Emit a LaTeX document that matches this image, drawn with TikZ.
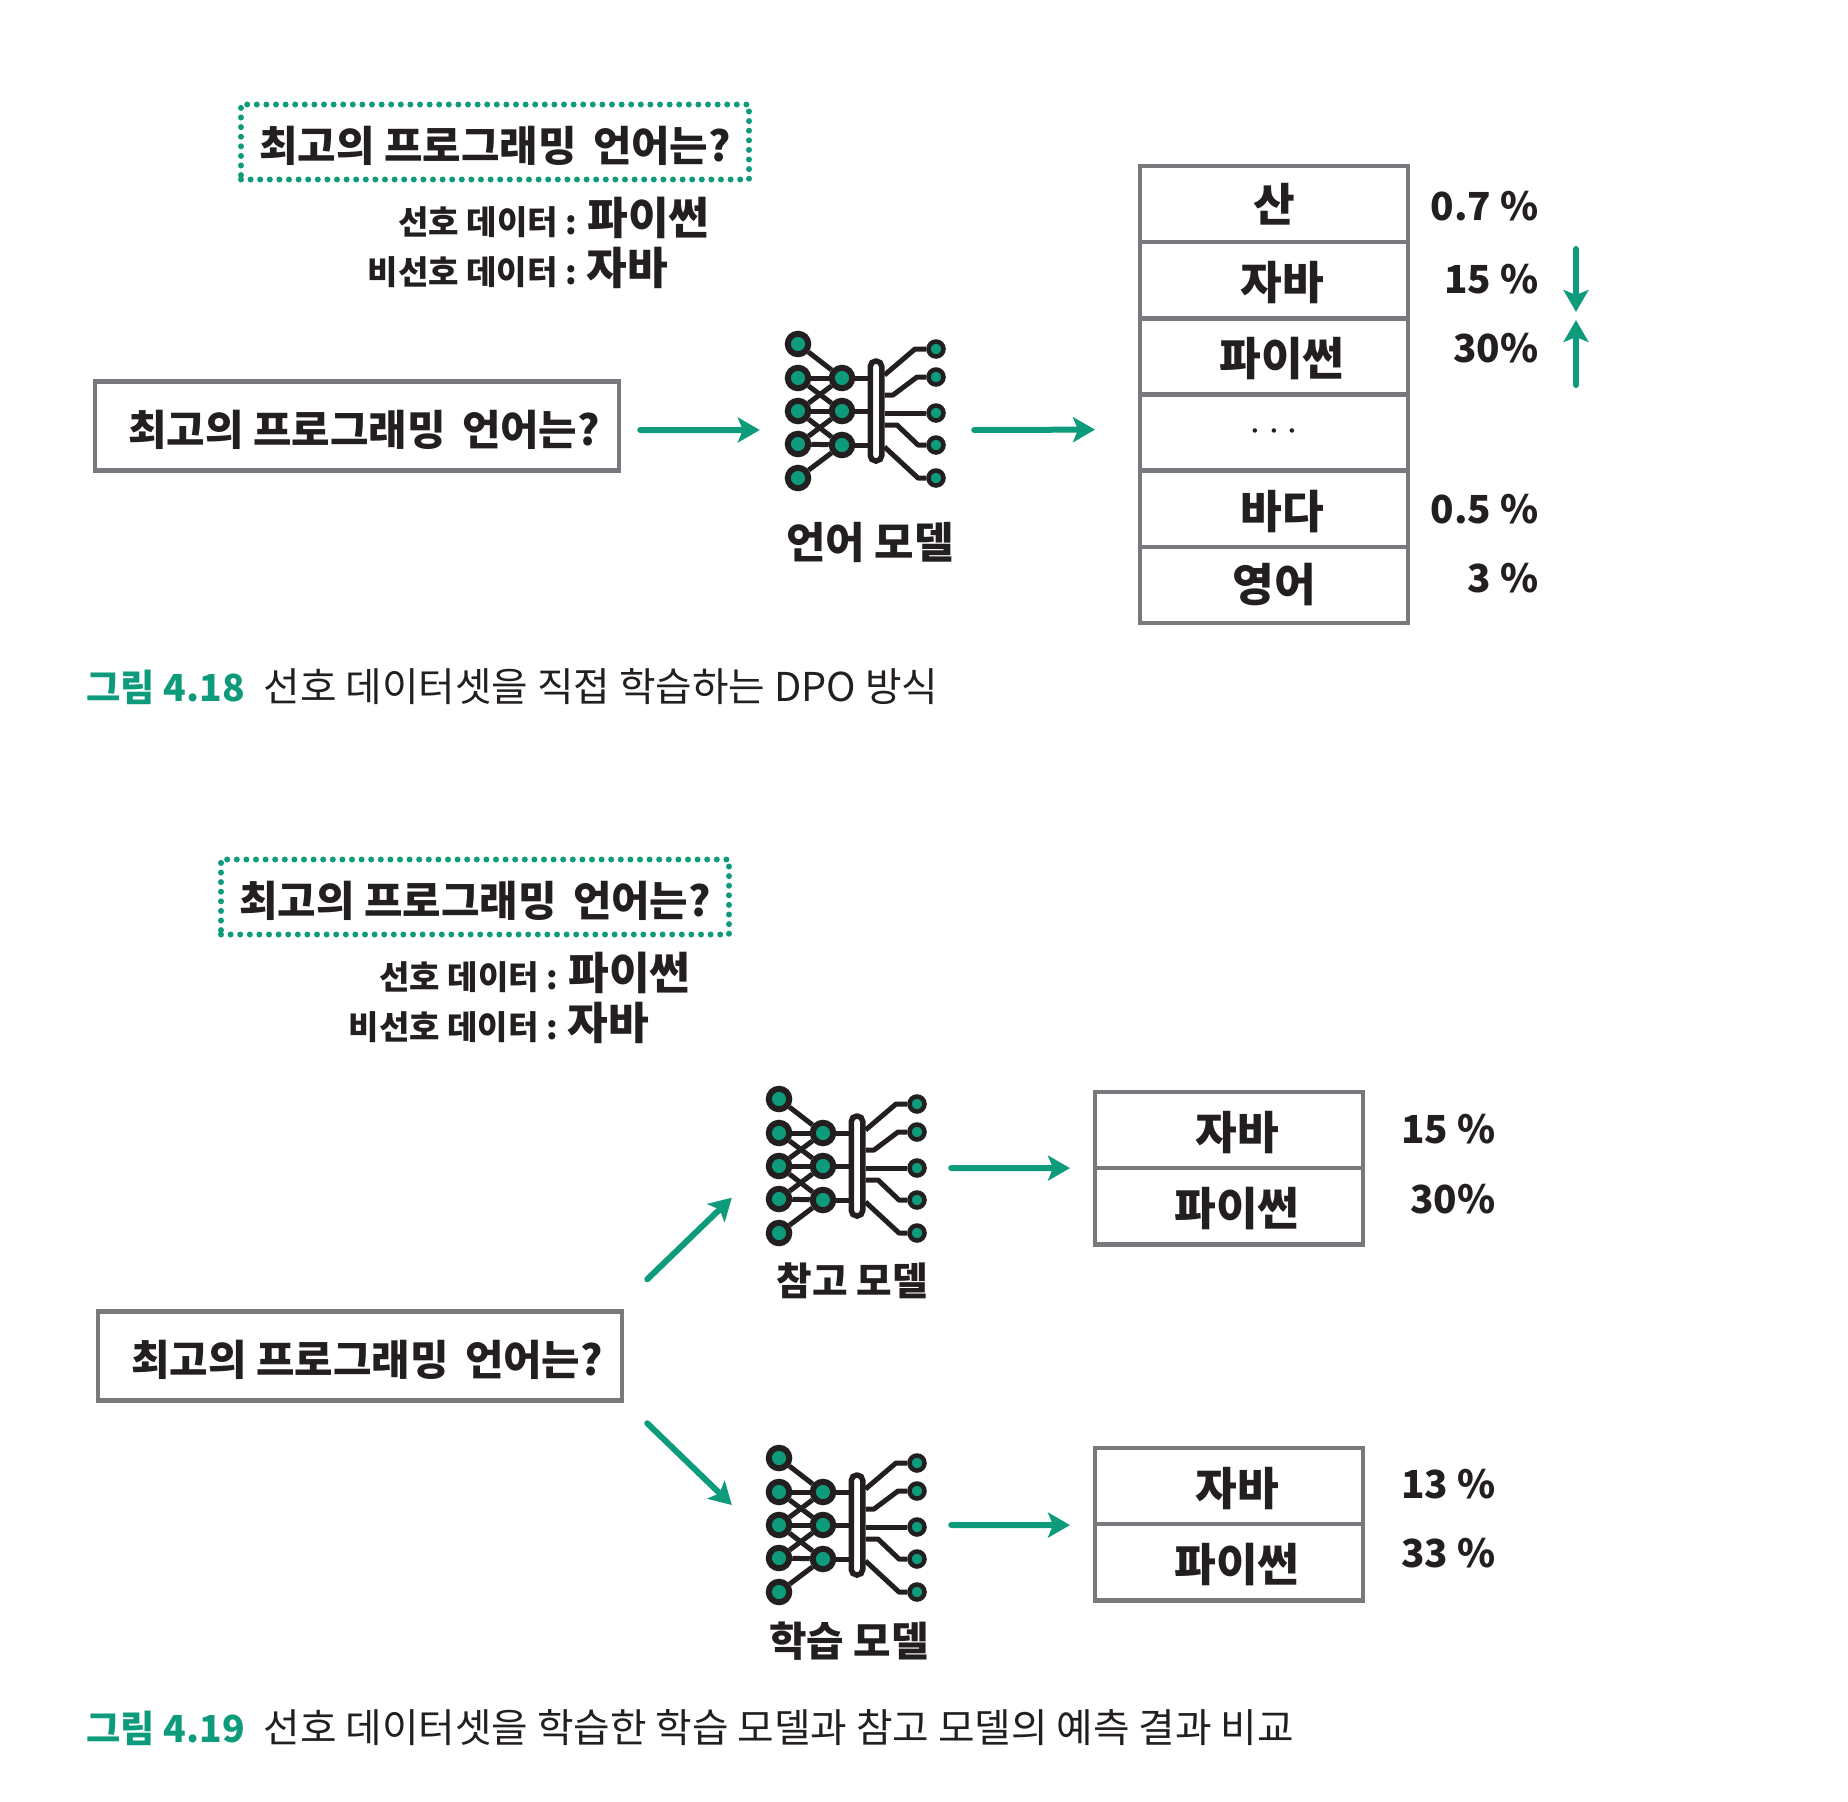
\documentclass[tikz,border=0pt]{standalone}
\usepackage{fontspec}
\setmainfont{Noto Sans CJK KR}
\usepackage{tikz}
\usetikzlibrary{arrows.meta, positioning, calc}
\definecolor{verdeDP}{RGB}{14,155,124}
\definecolor{grisDP}{RGB}{120,121,124}
\definecolor{tintaDP}{RGB}{35,31,32}
\tikzset{
  dp/qbox/.style={rectangle, draw=grisDP, fill=white, line width=.45mm,
    minimum width=52.4mm, minimum height=8.9mm, inner sep=0pt,
    font=\fontsize{11.9}{12}\selectfont\bfseries\color{tintaDP}},
  dp/dotbox/.style={rectangle, draw=verdeDP, line width=.6mm, line cap=round,
    dash pattern=on 0pt off .96mm,
    minimum width=50.8mm, minimum height=7.5mm, inner sep=0pt,
    font=\fontsize{11.9}{12}\selectfont\bfseries\color{tintaDP}},
  dp/row/.style={rectangle, draw=grisDP, fill=white, line width=.45mm,
    minimum width=26.8mm, minimum height=7.62mm, inner sep=0pt, outer sep=0pt,
    font=\fontsize{12.9}{13}\selectfont\bfseries\color{tintaDP}},
  dp/pct/.style={anchor=east, inner sep=0pt,
    font=\fontsize{11}{12}\selectfont\bfseries\color{tintaDP}},
  dp/pref/.style={inner sep=0pt, font=\fontsize{9.4}{12}\selectfont\bfseries\color{tintaDP}},
  dp/mlbl/.style={inner sep=0pt, font=\fontsize{#1}{13}\selectfont\bfseries\color{tintaDP}},
  dp/cap/.style={anchor=west, inner sep=0pt, font=\fontsize{11.3}{13}\selectfont\color{tintaDP}},
  dp/capnum/.style={anchor=west, inner sep=0pt, font=\fontsize{10.6}{13}\selectfont\bfseries\color{verdeDP}},
  dp/arr/.style={-{Stealth[length=2.2mm,width=2.5mm,inset=.5mm]}, line width=.6mm, draw=verdeDP, line cap=round},
  dp/inN/.style={circle, draw=tintaDP, fill=verdeDP, line width=.6mm, minimum size=2.05mm, inner sep=0pt},
  dp/outN/.style={circle, draw=tintaDP, fill=verdeDP, line width=.45mm, minimum size=1.5mm, inner sep=0pt},
  dp/bar/.style={rectangle, rounded corners=.55mm, draw=tintaDP, fill=white, line width=.55mm,
    minimum width=1.15mm, minimum height=10mm, inner sep=0pt},
  dp/wire/.style={line width=.5mm, draw=tintaDP, line join=round},
  netmodel/.pic={
    \node[minimum width=16.5mm, minimum height=15mm, inner sep=0pt] (-body) at (70,67) {};
    \foreach \i/\yy in {1/0,2/34,3/67,4/100,5/134}
      \node[dp/inN] (-in\i) at (0,\yy) {};
    \foreach \i/\yy in {1/34,2/67,3/101}
      \node[dp/inN] (-mid\i) at (44,\yy) {};
    \node[dp/bar] (-bar) at (78,67) {};
    \foreach \i/\yy in {1/5,2/33,3/69,4/101,5/134}
      \node[dp/outN] (-out\i) at (138,\yy) {};
    \foreach \a/\b in {1/1,2/1,2/2,3/1,3/2,3/3,4/2,4/3,5/3}
      \draw[dp/wire] (-in\a) -- (-mid\b);
    \foreach \i in {1,2,3}
      \draw[dp/wire] (-mid\i) -- (-mid\i -| -bar.west);
    \draw[dp/wire] (-bar.east |- 0,31) -- (117,5) -- (-out1);
    \draw[dp/wire] (-bar.east |- 0,51) -- (95,51) -- (119,33) -- (-out2);
    \draw[dp/wire] (-bar.east |- 0,69) -- (-out3);
    \draw[dp/wire] (-bar.east |- 0,81) -- (99,81) -- (120,101) -- (-out4);
    \draw[dp/wire] (-bar.east |- 0,103) -- (120,134) -- (-out5);
  }
}
\newcommand{\pregunta}{\raisebox{-1.95mm}[0pt][0pt]{최고의 프로그래밍 \,언어는?}}
\newcommand{\celda}[1]{\hspace*{1.6mm}\raisebox{-1.95mm}[0pt][0pt]{#1}}
\newcommand{\grande}[1]{{\fontsize{12.6}{13}\selectfont #1}}
\begin{document}
\begin{tikzpicture}[x=.1mm, y=-.1mm]
  \useasboundingbox (0,0) rectangle (1848,1802);

  % figura 4.18
  \node[dp/dotbox] (da) at (495,142) {\pregunta};
  \node[dp/pref] (pa1) at (554,218) {선호 데이터 : \grande{파이썬}};
  \node[dp/pref] (pa2) at (518,268) {비선호 데이터 : \grande{자바}};
  \node[dp/qbox] (qa) at (357,426) {\hspace*{1.4mm}\pregunta};
  \pic (ma) at (798,344) {netmodel};
  \node[dp/mlbl=12.2] (la) at (870,542) {언어 모델};

  \node[dp/row] (r1) at (1274,204) {산};
  \node[dp/row, below=0mm of r1] (r2) {\celda{자바}};
  \node[dp/row, below=0mm of r2] (r3) {\celda{파이썬}};
  \node[dp/row, below=0mm of r3] (r4) {$\cdots$};
  \node[dp/row, below=0mm of r4] (r5) {\celda{바다}};
  \node[dp/row, below=0mm of r5] (r6) {영어};

  \node[dp/pct] (p1) at (1539,206) {0.7 \%};
  \node[dp/pct] (p2) at (1539,279) {15 \%};
  \node[dp/pct] (p3) at (1539,348) {30\%};
  \node[dp/pct] (p5) at (1539,509) {0.5 \%};
  \node[dp/pct] (p6) at (1539,578) {3 \%};

  \coordinate (baja) at (1576,249);
  \coordinate (bajaF) at (1576,312);
  \coordinate (sube) at (1576,385);
  \coordinate (subeF) at (1576,320);
  \draw[dp/arr] (baja) -- (bajaF);
  \draw[dp/arr] (sube) -- (subeF);

  \draw[dp/arr] ([xshift=1.9mm,yshift=-.4mm]qa.east) -- ([xshift=-2.5mm,yshift=-1.9mm]ma-body.west);
  \draw[dp/arr] ([xshift=2.3mm,yshift=-1.9mm]ma-body.east) -- ([xshift=-4.5mm,yshift=.3mm]r4.west);

  \node[dp/capnum] (ca) at (86,687) {그림 4.18};
  \node[dp/cap] (cat) at (263,687) {선호 데이터셋을 직접 학습하는 DPO 방식};

  % figura 4.19
  \node[dp/dotbox] (db) at (475,897) {\pregunta};
  \node[dp/pref] (pb1) at (535,973) {선호 데이터 : \grande{파이썬}};
  \node[dp/pref] (pb2) at (499,1023) {비선호 데이터 : \grande{자바}};
  \node[dp/qbox] (qb) at (360,1356) {\hspace*{1.4mm}\pregunta};
  \pic (mr) at (779,1099) {netmodel};
  \pic (mt) at (779,1458) {netmodel};
  \node[dp/mlbl=11] (lr) at (852,1281) {참고 모델};
  \node[dp/mlbl=11.6] (lt) at (849,1641) {학습 모델};

  \node[dp/row] (ra) at (1229,1130) {\celda{자바}};
  \node[dp/row, below=0mm of ra] (rb) {\celda{파이썬}};
  \node[dp/row] (ta) at (1229,1486) {\celda{자바}};
  \node[dp/row, below=0mm of ta] (tb) {\celda{파이썬}};

  \node[dp/pct] (pra) at (1496,1129) {15 \%};
  \node[dp/pct] (prb) at (1496,1199) {30\%};
  \node[dp/pct] (pta) at (1496,1484) {13 \%};
  \node[dp/pct] (ptb) at (1496,1553) {33 \%};

  \draw[dp/arr] ([xshift=2.3mm,yshift=3mm]qb.north east) -- ([xshift=-3.4mm,yshift=4.4mm]mr-body.south west);
  \draw[dp/arr] ([xshift=2.3mm,yshift=-2.05mm]qb.south east) -- ([xshift=-3.4mm,yshift=2mm]mt-body.west);
  \draw[dp/arr] ([xshift=1.9mm,yshift=-.2mm]mr-body.east) -- ([xshift=-2.5mm]ra.south west);
  \draw[dp/arr] ([xshift=1.9mm]mt-body.east) -- ([xshift=-2.5mm,yshift=-.1mm]ta.south west);

  \node[dp/capnum] (cb) at (86,1728) {그림 4.19};
  \node[dp/cap] (cbt) at (263,1728) {선호 데이터셋을 학습한 학습 모델과 참고 모델의 예측 결과 비교};
\end{tikzpicture}
\end{document}
